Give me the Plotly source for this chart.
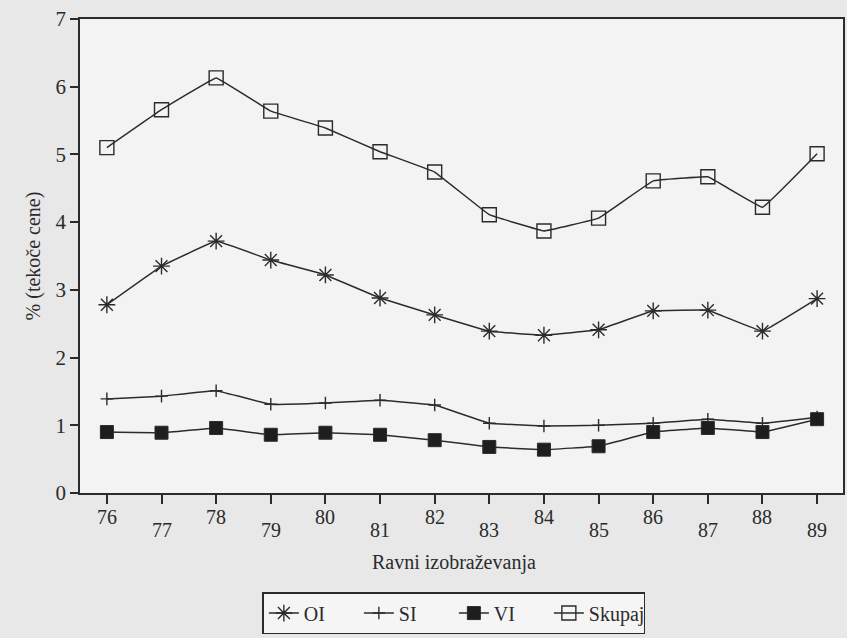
import plotly.graph_objects as go

years = [76, 77, 78, 79, 80, 81, 82, 83, 84, 85, 86, 87, 88, 89]
year_labels = [str(y) for y in years]
oi = [2.78, 3.35, 3.72, 3.44, 3.22, 2.88, 2.63, 2.39, 2.33, 2.41, 2.69, 2.70, 2.39, 2.87]
si = [1.39, 1.43, 1.51, 1.31, 1.33, 1.37, 1.30, 1.03, 0.99, 1.00, 1.03, 1.09, 1.03, 1.12]
vi = [0.90, 0.89, 0.96, 0.86, 0.89, 0.86, 0.78, 0.68, 0.64, 0.69, 0.90, 0.96, 0.90, 1.09]
skupaj = [5.10, 5.66, 6.13, 5.64, 5.39, 5.04, 4.74, 4.11, 3.87, 4.06, 4.61, 4.67, 4.22, 5.01]
y_ticks = [0, 1, 2, 3, 4, 5, 6, 7]

FONT = "Liberation Serif"
INK = "#2b2b2b"

fig = go.Figure()
common = dict(mode="lines+markers", line=dict(color=INK, width=1.5, shape="spline", smoothing=0.15))
fig.add_trace(go.Scatter(x=years, y=oi, name="OI",
                         marker=dict(symbol="asterisk-open", size=14, line=dict(color=INK, width=1.4)), **common))
fig.add_trace(go.Scatter(x=years, y=si, name="SI",
                         marker=dict(symbol="cross-thin-open", size=9, line=dict(color=INK, width=1.4)), **common))
fig.add_trace(go.Scatter(x=years, y=vi, name="VI",
                         marker=dict(symbol="square", size=13, color="#1e1e1e", line=dict(color=INK, width=1)), **common))
fig.add_trace(go.Scatter(x=years, y=skupaj, name="Skupaj",
                         marker=dict(symbol="square-open", size=14, color=INK, line=dict(color=INK, width=1.4)), **common))

annotations = []
for i, (yv, lab) in enumerate(zip(years, year_labels)):
    annotations.append(dict(x=yv, y=0, xref="x", yref="paper", text=lab, showarrow=False,
                            yanchor="middle", yshift=(-24 if i % 2 == 0 else -37),
                            font=dict(family=FONT, size=20, color=INK)))
annotations.append(dict(x=0.49, y=0, xref="paper", yref="paper", text="Ravni izobraževanja",
                        showarrow=False, yanchor="middle", yshift=-69,
                        font=dict(family=FONT, size=20, color=INK)))

fig.update_layout(
    width=847, height=638,
    margin=dict(l=80, r=2, t=19, b=145),
    paper_bgcolor="#e8e8e8", plot_bgcolor="#f3f3f3",
    font=dict(family=FONT, size=20, color=INK),
    showlegend=True,
    legend=dict(orientation="h", x=0.49, xanchor="center", y=-0.209, yanchor="top",
                bgcolor="#f5f5f5", bordercolor=INK, borderwidth=1.5,
                font=dict(family=FONT, size=20, color=INK), itemwidth=30,
                entrywidthmode="pixels", entrywidth=50),
    annotations=annotations,
)
fig.update_xaxes(range=[75.508, 89.474], tickvals=years, showticklabels=False,
                 ticks="outside", ticklen=9, tickwidth=1.5, tickcolor=INK,
                 showline=True, linecolor=INK, linewidth=1.5, mirror=True,
                 showgrid=False, zeroline=False)
fig.update_yaxes(range=[0, 7], tickvals=y_ticks, ticks="outside", ticklen=8, tickwidth=1.5,
                 tickcolor=INK, showline=True, linecolor=INK, linewidth=1.5, mirror=True,
                 showgrid=False, zeroline=False,
                 title=dict(text="% (tekoče cene)", font=dict(family=FONT, size=20, color=INK), standoff=10),
                 tickfont=dict(family=FONT, size=21, color=INK))

fig.write_html("out.html", config={"displayModeBar": False},
               post_script="document.body.style.margin='0';")
